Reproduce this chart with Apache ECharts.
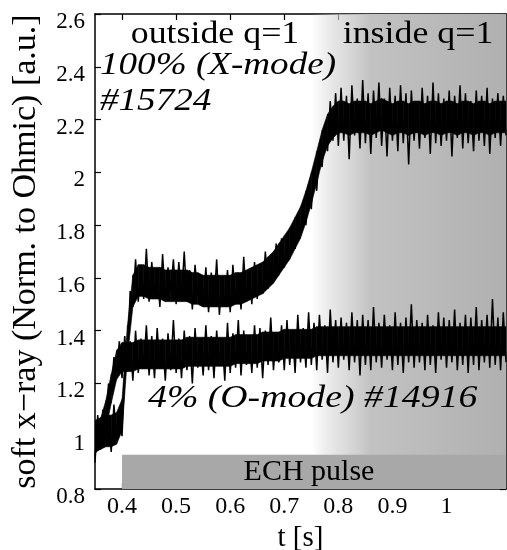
<!DOCTYPE html>
<html>
<head>
<meta charset="utf-8">
<script src="https://cdn.jsdelivr.net/npm/echarts@6/dist/echarts.min.js"></script>
<style>
  html, body { margin: 0; padding: 0; background: #fff; }
  #chart { width: 507px; height: 550px; }
</style>
</head>
<body>
<div id="chart"></div>
<script>
const tStart = 0.35;
const tStep = 0.005;     // spiky trace
const coreStep = 0.01;   // dense core of each trace

const xMode = [
  0.90, 1.08, 0.95, 1.10, 0.98, 1.06, 0.94, 1.12, 0.99, 1.07,
  1.00, 1.24, 1.28, 1.55, 1.49, 1.67, 1.51, 1.65, 1.52, 1.71,
  1.51, 1.66, 1.53, 1.62, 1.49, 1.69, 1.52, 1.64, 1.55, 1.67,
  1.50, 1.66, 1.52, 1.70, 1.51, 1.63, 1.48, 1.65, 1.53, 1.61,
  1.49, 1.64, 1.47, 1.62, 1.50, 1.67, 1.46, 1.60, 1.49, 1.63,
  1.47, 1.65, 1.50, 1.62, 1.48, 1.68, 1.51, 1.63, 1.50, 1.66,
  1.52, 1.65, 1.54, 1.70, 1.56, 1.69, 1.59, 1.73, 1.62, 1.75,
  1.64, 1.76, 1.68, 1.79, 1.71, 1.84, 1.76, 1.88, 1.80, 1.95,
  1.86, 2.02, 1.93, 2.10, 2.02, 2.18, 2.08, 2.27, 2.12, 2.30,
  2.10, 2.32, 2.12, 2.29, 2.05, 2.33, 2.14, 2.28, 2.09, 2.35,
  2.11, 2.30, 2.07, 2.31, 2.13, 2.34, 2.10, 2.28, 2.06, 2.32,
  2.12, 2.29, 2.08, 2.33, 2.11, 2.30, 2.03, 2.31, 2.12, 2.27,
  2.09, 2.32, 2.13, 2.29, 2.07, 2.34, 2.11, 2.30, 2.10, 2.28,
  2.12, 2.31, 2.06, 2.29, 2.13, 2.33, 2.09, 2.30, 2.11, 2.27,
  2.08, 2.31, 2.12, 2.29, 2.10, 2.32, 2.07, 2.28, 2.13, 2.30,
  2.10, 2.29, 2.14
];
// #15724 core centre, every 10 ms
const xModeCore = [
  1.00, 1.01, 1.02, 1.02, 1.03, 1.08, 1.36, 1.55, 1.59, 1.59,
  1.58, 1.58, 1.58, 1.57, 1.57, 1.57, 1.57, 1.57, 1.56, 1.56,
  1.55, 1.55, 1.55, 1.55, 1.55, 1.55, 1.56, 1.56, 1.57, 1.58,
  1.59, 1.60, 1.62, 1.64, 1.67, 1.70, 1.73, 1.77, 1.81, 1.87,
  1.94, 2.02, 2.10, 2.16, 2.19, 2.21, 2.21, 2.20, 2.21, 2.21,
  2.21, 2.20, 2.21, 2.22, 2.21, 2.20, 2.21, 2.21, 2.20, 2.21,
  2.21, 2.20, 2.21, 2.21, 2.20, 2.21, 2.21, 2.20, 2.21, 2.21,
  2.20, 2.21, 2.21, 2.20, 2.21, 2.21, 2.21
];
const xModeHalfWidth = 0.06;

// #14916, 4% O-mode: spikes every 5 ms
const oMode = [
  0.92, 1.06, 0.96, 1.10, 1.05, 1.20, 1.16, 1.30, 1.24, 1.36,
  1.22, 1.38, 1.25, 1.36, 1.21, 1.40, 1.24, 1.37, 1.26, 1.42,
  1.23, 1.38, 1.22, 1.41, 1.26, 1.37, 1.21, 1.39, 1.25, 1.44,
  1.24, 1.37, 1.22, 1.40, 1.25, 1.38, 1.20, 1.41, 1.26, 1.36,
  1.23, 1.42, 1.25, 1.38, 1.22, 1.40, 1.27, 1.37, 1.21, 1.43,
  1.24, 1.39, 1.26, 1.44, 1.23, 1.40, 1.27, 1.38, 1.24, 1.42,
  1.26, 1.41, 1.22, 1.40, 1.27, 1.45, 1.25, 1.39, 1.28, 1.42,
  1.25, 1.44, 1.27, 1.40, 1.24, 1.46, 1.28, 1.41, 1.26, 1.47,
  1.27, 1.43, 1.25, 1.46, 1.29, 1.42, 1.24, 1.48, 1.28, 1.44,
  1.26, 1.45, 1.29, 1.43, 1.25, 1.47, 1.28, 1.44, 1.23, 1.46,
  1.27, 1.44, 1.25, 1.49, 1.28, 1.43, 1.26, 1.46, 1.29, 1.42,
  1.25, 1.47, 1.27, 1.43, 1.24, 1.45, 1.28, 1.50, 1.26, 1.44,
  1.28, 1.43, 1.25, 1.46, 1.27, 1.42, 1.24, 1.47, 1.29, 1.45,
  1.26, 1.44, 1.28, 1.48, 1.25, 1.43, 1.27, 1.46, 1.24, 1.45,
  1.27, 1.49, 1.25, 1.44, 1.28, 1.46, 1.26, 1.52, 1.27, 1.45,
  1.25, 1.47, 1.28
];
// #14916 core centre, every 10 ms
const oModeCore = [
  0.99, 1.01, 1.08, 1.18, 1.27, 1.30, 1.30, 1.30, 1.31, 1.31,
  1.31, 1.31, 1.31, 1.31, 1.31, 1.31, 1.31, 1.32, 1.32, 1.32,
  1.32, 1.32, 1.32, 1.32, 1.32, 1.32, 1.33, 1.33, 1.33, 1.33,
  1.33, 1.34, 1.34, 1.34, 1.34, 1.35, 1.35, 1.35, 1.35, 1.35,
  1.35, 1.36, 1.36, 1.36, 1.36, 1.36, 1.36, 1.36, 1.36, 1.36,
  1.36, 1.36, 1.36, 1.36, 1.36, 1.36, 1.36, 1.36, 1.36, 1.36,
  1.36, 1.36, 1.36, 1.36, 1.36, 1.36, 1.36, 1.36, 1.36, 1.36,
  1.36, 1.36, 1.36, 1.36, 1.36, 1.36, 1.36
];
const oModeHalfWidth = 0.055;

const xTicks = [0.4, 0.5, 0.6, 0.7, 0.8, 0.9, 1.0];
const echPulse = [0.40, 1.11];     // t range of the ECH pulse bar
const insideQ1 = [0.75, 1.11];     // shaded "inside q=1" region

const serif = 'Liberation Serif';

function toPairs(vals, step) {
  return vals.map((v, i) => [+(tStart + i * step).toFixed(3), v]);
}

const chart = echarts.init(document.getElementById('chart'));

const axisCommon = {
  axisLine: { show: true, lineStyle: { color: '#000', width: 1.5 } },
  axisTick: { show: true, inside: true, length: 6, lineStyle: { color: '#000', width: 1.2 } },
  splitLine: { show: false }
};

function spikes(name, data) {
  return {
    name: name, type: 'line', z: 4, showSymbol: false, sampling: 'none', silent: true,
    data: toPairs(data, tStep),
    lineStyle: { color: '#000', width: 1.5 }
  };
}

// solid black band of a trace: one quad per core segment, centre +- hw
function core(name, centre, hw) {
  const pts = toPairs(centre, coreStep);
  return {
    name: name, type: 'custom', z: 3, silent: true, clip: true,
    data: pts,
    renderItem: function (params, api) {
      const i = params.dataIndex;
      if (i >= pts.length - 1) return null;
      const a = pts[i], b = pts[i + 1];
      const poly = [
        api.coord([a[0], a[1] + hw]),
        api.coord([b[0], b[1] + hw]),
        api.coord([b[0], b[1] - hw]),
        api.coord([a[0], a[1] - hw])
      ];
      return {
        type: 'polygon',
        shape: { points: poly },
        style: { fill: '#000', stroke: '#000', lineWidth: 0.6 }
      };
    }
  };
}

chart.setOption({
  animation: false,
  backgroundColor: '#fff',
  grid: { left: 95, right: 1, top: 14, bottom: 61, outerBoundsMode: 'none', containLabel: false },
  xAxis: [
    Object.assign({}, axisCommon, {
      type: 'value', min: 0.35, max: 1.11,
      name: 't [s]', nameLocation: 'middle', nameGap: 31,
      nameTextStyle: { fontFamily: serif, fontSize: 29, color: '#000' },
      axisTick: Object.assign({}, axisCommon.axisTick, { customValues: xTicks }),
      axisLabel: {
        customValues: xTicks, margin: 6,
        fontFamily: serif, fontSize: 24, color: '#000',
        formatter: v => (v === 1 ? '1' : v.toFixed(1))
      }
    }),
    Object.assign({}, axisCommon, {
      type: 'value', min: 0.35, max: 1.11, position: 'top',
      axisTick: Object.assign({}, axisCommon.axisTick, { customValues: xTicks }),
      axisLabel: { show: false }
    })
  ],
  yAxis: [
    Object.assign({}, axisCommon, {
      type: 'value', min: 0.8, max: 2.6, interval: 0.2,
      name: 'soft x\u2212ray (Norm. to Ohmic) [a.u.]',
      nameLocation: 'middle', nameRotate: 90, nameGap: 52,
      nameTextStyle: { fontFamily: serif, fontSize: 34, color: '#000' },
      axisLabel: {
        margin: 10, fontFamily: serif, fontSize: 23, color: '#000',
        verticalAlign: 'top', lineHeight: 16,
        formatter: v => String(+v.toFixed(1))
      }
    }),
    Object.assign({}, axisCommon, {
      type: 'value', min: 0.8, max: 2.6, interval: 0.2, position: 'right',
      axisLabel: { show: false }
    })
  ],
  series: [
    {
      name: 'regions', type: 'line', data: [], z: 1, silent: true,
      markArea: {
        silent: true,
        data: [
          [
            {
              xAxis: insideQ1[0], yAxis: 0.8,
              itemStyle: {
                color: new echarts.graphic.LinearGradient(0, 0, 1, 0, [
                  { offset: 0, color: 'rgba(200,200,200,0)' },
                  { offset: 0.15, color: 'rgba(210,210,210,0.7)' },
                  { offset: 0.3, color: '#c2c2c2' },
                  { offset: 1, color: '#b0b0b0' }
                ])
              }
            },
            { xAxis: insideQ1[1], yAxis: 2.6 }
          ],
          [
            {
              xAxis: echPulse[0], yAxis: 0.8,
              itemStyle: { color: '#a8a8a8' },
              label: {
                show: true, position: 'inside', formatter: 'ECH pulse',
                fontFamily: serif, fontSize: 30, color: '#000', offset: [-5, 0]
              }
            },
            { xAxis: echPulse[1], yAxis: 0.93 }
          ]
        ]
      }
    },
    core('#15724 core', xModeCore, xModeHalfWidth),
    spikes('#15724', xMode),
    core('#14916 core', oModeCore, oModeHalfWidth),
    spikes('#14916', oMode)
  ],
  graphic: [
    {
      type: 'text', x: 215, y: 35, scaleX: 1.12, z: 10,
      style: { text: 'outside q=1', font: '32px Liberation Serif', fill: '#000', align: 'center', verticalAlign: 'middle' }
    },
    {
      type: 'text', x: 418, y: 35, scaleX: 1.12, z: 10,
      style: { text: 'inside q=1', font: '32px Liberation Serif', fill: '#000', align: 'center', verticalAlign: 'middle' }
    },
    {
      type: 'text', x: 100, y: 66, scaleX: 1.16, z: 10,
      style: { text: '100% (X-mode)', font: 'italic 32px Liberation Serif', fill: '#000', align: 'left', verticalAlign: 'middle' }
    },
    {
      type: 'text', x: 100, y: 102, scaleX: 1.16, z: 10,
      style: { text: '#15724', font: 'italic 32px Liberation Serif', fill: '#000', align: 'left', verticalAlign: 'middle' }
    },
    {
      type: 'text', x: 148, y: 399, scaleX: 1.18, z: 10,
      style: { text: '4% (O-mode) #14916', font: 'italic 32px Liberation Serif', fill: '#000', align: 'left', verticalAlign: 'middle' }
    }
  ]
});
</script>
</body>
</html>
